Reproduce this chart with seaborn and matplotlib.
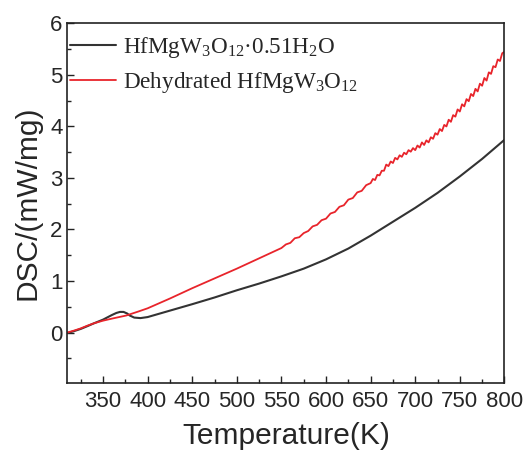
import numpy as np
import pandas as pd
import matplotlib
matplotlib.use("Agg")
import matplotlib.pyplot as plt
from matplotlib.ticker import MultipleLocator
import seaborn as sns

# ---- data ----
hyd_T = [310, 318, 325, 332, 340, 350, 360, 365, 369, 373, 377, 380, 385, 392, 400, 420,
         450, 475, 500, 525, 550, 575, 600, 625, 650, 675, 700, 725, 750, 775, 800]
hyd_dsc = [-0.01, 0.03, 0.07, 0.12, 0.18, 0.25, 0.34, 0.38, 0.40, 0.40, 0.37, 0.33, 0.29, 0.28, 0.30, 0.40,
           0.55, 0.68, 0.82, 0.95, 1.09, 1.24, 1.42, 1.63, 1.88, 2.15, 2.42, 2.71, 3.03, 3.37, 3.74]

deh_T = [310, 318, 325, 332, 340, 350, 360, 376, 390, 400, 425, 450, 475, 500, 525, 550,
         555, 560, 565, 570, 575, 580, 585, 590, 595, 600,
         605, 610, 615, 620, 625, 630, 635, 640, 645, 650,
         652.5, 655, 657.5, 660, 662.5, 665, 667.5, 670, 672.5, 675,
         677.5, 680, 682.5, 685, 687.5, 690, 692.5, 695, 697.5, 700,
         702.5, 705, 707.5, 710, 712.5, 715, 717.5, 720, 722.5, 725,
         727.5, 730, 732.5, 735, 737.5, 740, 742.5, 745, 747.5, 750,
         752.5, 755, 757.5, 760, 762.5, 765, 767.5, 770, 772.5, 775,
         777.5, 780, 782.5, 785, 787.5, 790, 792.5, 795, 797.5, 800]
deh_dsc = [0.00, 0.04, 0.08, 0.13, 0.18, 0.23, 0.27, 0.33, 0.41, 0.47, 0.66, 0.86, 1.05, 1.24, 1.44, 1.64,
           1.71, 1.74, 1.83, 1.85, 1.93, 1.97, 2.06, 2.09, 2.18, 2.21,
           2.31, 2.34, 2.44, 2.47, 2.58, 2.61, 2.72, 2.75, 2.86, 2.90,
           2.98, 2.96, 3.06, 3.05, 3.14, 3.14, 3.26, 3.23, 3.32, 3.29,
           3.39, 3.36, 3.44, 3.41, 3.49, 3.46, 3.54, 3.51, 3.58, 3.54,
           3.63, 3.59, 3.69, 3.64, 3.73, 3.69, 3.79, 3.76, 3.87, 3.84,
           3.95, 3.91, 4.03, 4.00, 4.13, 4.09, 4.22, 4.19, 4.33, 4.29,
           4.43, 4.39, 4.53, 4.49, 4.63, 4.59, 4.73, 4.68, 4.83, 4.79,
           4.94, 4.89, 5.05, 5.02, 5.17, 5.15, 5.30, 5.27, 5.42, 5.45]

labels = [r'HfMgW$_3$O$_{12}$·0.51H$_2$O', r'Dehydrated HfMgW$_3$O$_{12}$']
x_ticks = [350, 400, 450, 500, 550, 600, 650, 700, 750, 800]
y_ticks = [0, 1, 2, 3, 4, 5, 6]

sns.set_style("white")
plt.rcParams['font.family'] = ['Liberation Sans', 'DejaVu Sans']
plt.rcParams['mathtext.fontset'] = 'custom'
plt.rcParams['mathtext.rm'] = 'Liberation Serif'
plt.rcParams['mathtext.it'] = 'Liberation Serif:italic'

df_h = pd.DataFrame({'T': hyd_T, 'DSC': hyd_dsc})
df_d = pd.DataFrame({'T': deh_T, 'DSC': deh_dsc})

fig = plt.figure(figsize=(5.26, 4.5), dpi=100)
ax = fig.add_axes([0.128, 0.150, 0.831, 0.798])

sns.lineplot(data=df_h, x='T', y='DSC', ax=ax, color='#333333', lw=1.5,
             sort=False, estimator=None, label=labels[0])
sns.lineplot(data=df_d, x='T', y='DSC', ax=ax, color='#e8242b', lw=1.3,
             sort=False, estimator=None, label=labels[1])

ax.set_xlim(310, 800)
ax.set_ylim(-0.97, 6)
ax.set_xticks(x_ticks)
ax.set_yticks(y_ticks)
ax.xaxis.set_minor_locator(MultipleLocator(25))
ax.yaxis.set_minor_locator(MultipleLocator(0.5))
ax.tick_params(which='both', direction='in', bottom=True, left=True, top=False, right=False,
               labelsize=16, width=1.0, color='#222222')
ax.tick_params(axis='x', which='major', pad=6)
ax.tick_params(which='major', length=5)
ax.tick_params(which='minor', length=3)
for s in ax.spines.values():
    s.set_color('#222222')
    s.set_linewidth(1.2)

ax.set_xlabel('Temperature(K)', fontsize=21.5, labelpad=7)
ax.set_ylabel('DSC/(mW/mg)', fontsize=21.5, labelpad=6)

leg = ax.legend(loc='upper left', bbox_to_anchor=(0.0, 0.975), frameon=False,
                prop={'family': 'Liberation Serif', 'size': 16.7},
                handlelength=2.0, handletextpad=0.3, labelspacing=0.45,
                borderpad=0.0, borderaxespad=0.1)

fig.savefig('out.png', dpi=100)
